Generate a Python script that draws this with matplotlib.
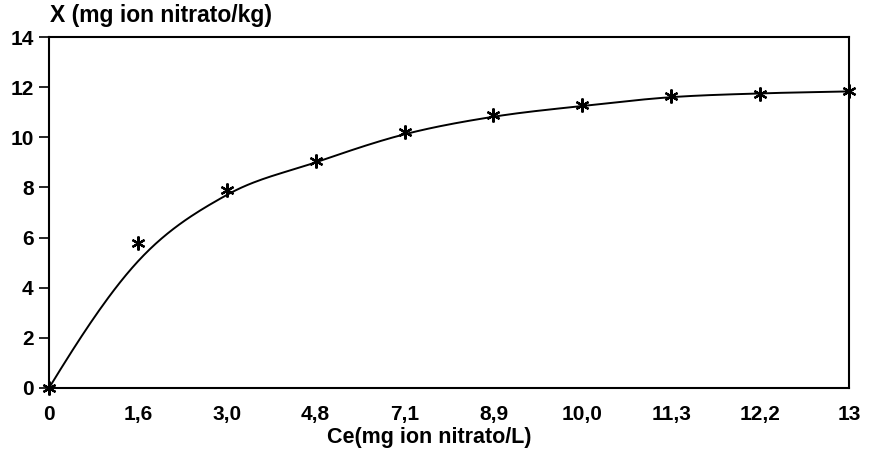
import numpy as np
import matplotlib
matplotlib.use("Agg")
import matplotlib.pyplot as plt

categories = ["0", "1,6", "3,0", "4,8", "7,1", "8,9", "10,0", "11,3", "12,2", "13"]
measured = [0.0, 5.78, 7.9, 9.05, 10.22, 10.87, 11.27, 11.63, 11.72, 11.83]
fitted = [0.0, 5.05, 7.7, 9.0, 10.12, 10.82, 11.25, 11.6, 11.75, 11.83]
yticks = [0, 2, 4, 6, 8, 10, 12, 14]

plt.rcParams['font.family'] = ['Liberation Sans', 'DejaVu Sans']

fig = plt.figure(figsize=(8.69, 4.57), dpi=100)
ax = fig.add_axes([0.0564, 0.151, 0.977 - 0.0564, 0.919 - 0.151])

x = np.arange(len(categories))

# smooth line through the fitted values (Catmull-Rom rendering)
def catmull_rom(xs, ys, n=30):
    xs = np.asarray(xs, float); ys = np.asarray(ys, float)
    px = np.concatenate([[2*xs[0]-xs[1]], xs, [2*xs[-1]-xs[-2]]])
    py = np.concatenate([[ys[0]-1.3*(ys[1]-ys[0])], ys, [2*ys[-1]-ys[-2]]])
    outx, outy = [], []
    for i in range(1, len(px)-2):
        t = np.linspace(0, 1, n, endpoint=False)
        for arr, out in ((px, outx), (py, outy)):
            p0, p1, p2, p3 = arr[i-1], arr[i], arr[i+1], arr[i+2]
            out.extend(0.5*((2*p1) + (-p0+p2)*t + (2*p0-5*p1+4*p2-p3)*t**2 + (-p0+3*p1-3*p2+p3)*t**3))
    outx.append(xs[-1]); outy.append(ys[-1])
    return np.array(outx), np.array(outy)

sx, sy = catmull_rom(x, fitted)
ax.plot(sx, sy, color='black', lw=1.4, clip_on=False)
ax.plot(x, measured, linestyle='none', marker=(6, 2, 0), markersize=10,
        markeredgewidth=1.6, color='black', clip_on=False, zorder=5)

ax.set_xlim(0, len(categories) - 1)
ax.set_ylim(0, 14)
ax.set_xticks(x)
ax.set_xticklabels(categories)
ax.set_yticks(yticks)
ax.tick_params(axis='x', length=0, pad=12, labelsize=15)
ax.tick_params(axis='y', length=7, width=1.2, direction='out', pad=4, labelsize=15)
for lab in ax.get_xticklabels() + ax.get_yticklabels():
    lab.set_fontweight('bold')
for s in ax.spines.values():
    s.set_linewidth(1.5)
    s.set_color('black')

ax.set_xlabel("Ce(mg ion nitrato/L)", fontsize=15.5, fontweight='bold')
ax.xaxis.set_label_coords(0.475, -0.14)
ax.xaxis.label.set_va('center')
fig.text(0.057, 0.967, "X (mg ion nitrato/kg)", fontsize=16.5, fontweight='bold',
         ha='left', va='center')

fig.savefig("out.png", dpi=100)
